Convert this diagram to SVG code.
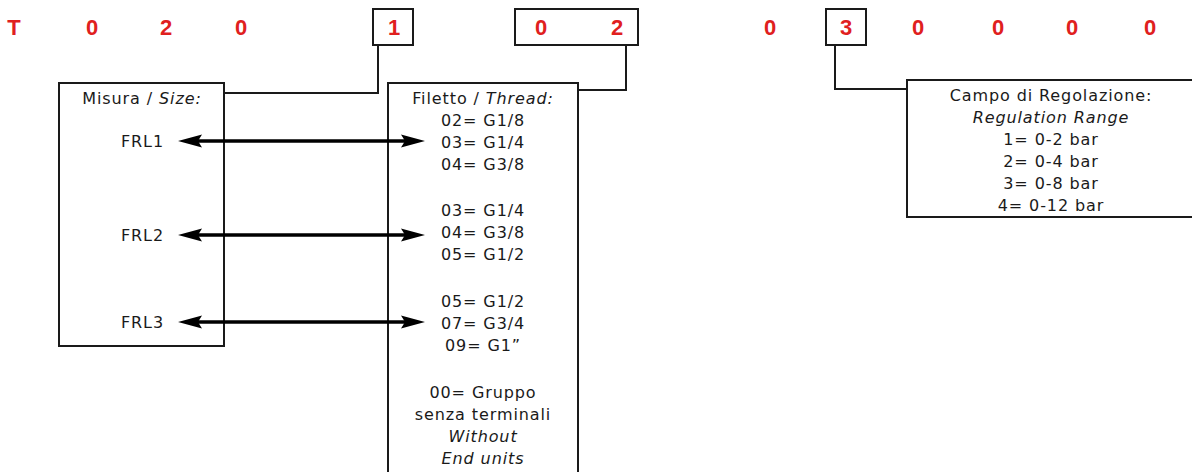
<svg xmlns="http://www.w3.org/2000/svg" width="1192" height="472" viewBox="0 0 1192 472">
<defs>
<style>
.code{font-family:"Liberation Sans",Arial,sans-serif;font-weight:bold;font-size:22px;fill:#e0201e;text-anchor:middle}
.t{font-family:"DejaVu Sans","Liberation Sans",sans-serif;font-size:16px;letter-spacing:0.9px;fill:#1a1a1a;text-anchor:middle}
.r{text-anchor:end}
.i{font-style:italic}
.box{fill:#fff;stroke:#1a1a1a;stroke-width:2}
.ln{fill:none;stroke:#1a1a1a;stroke-width:2}
.arr{stroke:#000;stroke-width:3.5}
.head{fill:#000}
</style>
<path id="hr" class="head" d="M-24,-6.5 L0,0 L-24,6.5 L-20,0 Z"/>
<path id="hl" class="head" d="M24,-6.5 L0,0 L24,6.5 L20,0 Z"/>
</defs>
<rect width="1192" height="472" fill="#fff"/>
<g id="code">
<text class="code" x="14" y="35">T</text>
<text class="code" x="92" y="35">0</text>
<text class="code" x="166" y="35">2</text>
<text class="code" x="241" y="35">0</text>
<text class="code" x="770" y="35">0</text>
<text class="code" x="918" y="35">0</text>
<text class="code" x="998" y="35">0</text>
<text class="code" x="1072" y="35">0</text>
<text class="code" x="1150" y="35">0</text>
</g>
<g id="code1">
<rect class="box" x="373" y="9" width="40" height="36"/>
<text class="code" x="394" y="35">1</text>
</g>
<g id="code02">
<rect class="box" x="515" y="9" width="123" height="36"/>
<text class="code" x="541" y="35">0</text>
<text class="code" x="617" y="35">2</text>
</g>
<g id="code3">
<rect class="box" x="826" y="9" width="40" height="36"/>
<text class="code" x="846" y="35">3</text>
</g>
<g id="connectors">
<polyline class="ln" points="378,45 378,93 224,93"/>
<polyline class="ln" points="626,45 626,90 578,90"/>
<polyline class="ln" points="835,45 835,89 907,89"/>
</g>
<g id="size">
<rect class="box" x="59" y="83" width="165" height="263"/>
<text class="t" x="142" y="104">Misura / <tspan class="i">Size:</tspan></text>
<text class="t r" x="164" y="147">FRL1</text>
<text class="t r" x="164" y="241">FRL2</text>
<text class="t r" x="164" y="328">FRL3</text>
</g>
<g id="thread">
<rect class="box" x="388" y="83" width="190" height="395"/>
<text class="t" x="483" y="104">Filetto / <tspan class="i">Thread:</tspan></text>
<text class="t" x="483" y="126">02= G1/8</text>
<text class="t" x="483" y="148">03= G1/4</text>
<text class="t" x="483" y="170">04= G3/8</text>
<text class="t" x="483" y="216">03= G1/4</text>
<text class="t" x="483" y="238">04= G3/8</text>
<text class="t" x="483" y="260">05= G1/2</text>
<text class="t" x="483" y="307">05= G1/2</text>
<text class="t" x="483" y="329">07= G3/4</text>
<text class="t" x="483" y="351">09= G1”</text>
<text class="t" x="483" y="398">00= Gruppo</text>
<text class="t" x="483" y="420">senza terminali</text>
<text class="t i" x="483" y="442">Without</text>
<text class="t i" x="483" y="464">End units</text>
</g>
<g id="range">
<rect class="box" x="907" y="80" width="290" height="137"/>
<text class="t" x="1051" y="101">Campo di Regolazione:</text>
<text class="t i" x="1051" y="123">Regulation Range</text>
<text class="t" x="1051" y="145">1= 0-2 bar</text>
<text class="t" x="1051" y="167">2= 0-4 bar</text>
<text class="t" x="1051" y="189">3= 0-8 bar</text>
<text class="t" x="1051" y="211">4= 0-12 bar</text>
</g>
<g id="arrows">
<line class="arr" x1="196" y1="141" x2="407" y2="141"/>
<use href="#hl" x="178" y="141"/><use href="#hr" x="425" y="141"/>
<line class="arr" x1="196" y1="235" x2="407" y2="235"/>
<use href="#hl" x="178" y="235"/><use href="#hr" x="425" y="235"/>
<line class="arr" x1="196" y1="322" x2="407" y2="322"/>
<use href="#hl" x="178" y="322"/><use href="#hr" x="425" y="322"/>
</g>
</svg>
